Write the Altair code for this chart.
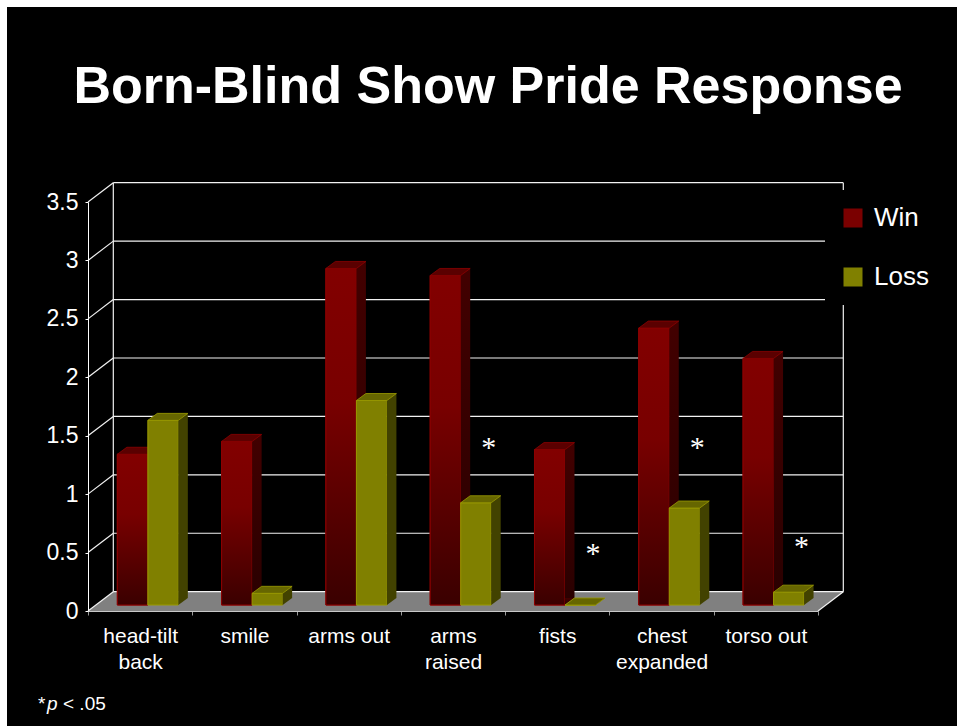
import altair as alt
import pandas as pd

# ---- data -------------------------------------------------------------
categories = ["head-tilt\nback", "smile", "arms out", "arms\nraised",
              "fists", "chest\nexpanded", "torso out"]
series = ["Win", "Loss"]
win = [1.29, 1.40, 2.88, 2.82, 1.33, 2.37, 2.11]
loss = [1.58, 0.10, 1.75, 0.875, 0.0, 0.83, 0.11]
y_ticks = [0, 0.5, 1, 1.5, 2, 2.5, 3, 3.5]
star_cats = ["arms\nraised", "fists", "chest\nexpanded", "torso out"]
star_heights = [1.38, 0.47, 1.38, 0.53]

# ---- geometry of the pseudo-3D frame (pixels) -------------------------
PLOT_W, PLOT_H = 730, 409
PAD_L, PAD_T = 88, 202
CANVAS_W, CANVAS_H = 957, 726
WALL_DX, WALL_DY = 25.3, 19.3     # depth of the floor / back wall
BAR_W = 30.5
BAR_DX, BAR_DY = 9.5, 7           # depth of each bar
PAIR_SHIFT = 7.7                  # bars stand a third of the way into the floor
BAR_LIFT = 6

FONT = "Liberation Sans"

bars = pd.DataFrame({
    "cat": categories * 2,
    "series": [series[0]] * len(win) + [series[1]] * len(loss),
    "value": win + loss,
})
ticks = pd.DataFrame({"value": y_ticks})
stars = pd.DataFrame({"cat": star_cats, "value": star_heights})
one = pd.DataFrame({"value": [0]})

x_axis = alt.Axis(
    labelExpr="split(datum.label, '\\n')", labelAngle=0, labelColor="white",
    labelFont=FONT, labelFontSize=21, labelLineHeight=26, labelPadding=10,
    labelOverlap=False, tickBand="extent", tickSize=4, tickColor="#9a9a9a",
    domainColor="#c8c8c8", domainWidth=1, grid=False, title=None, zindex=1,
)
y_axis = alt.Axis(
    values=y_ticks, format=".1~f", grid=False, domainColor="white",
    tickColor="white", tickSize=3, labelColor="white", labelFont=FONT,
    labelFontSize=23, labelPadding=7, title=None, zindex=1,
)
x_enc = alt.X("cat:N", sort=categories,
              scale=alt.Scale(type="band", paddingInner=0, paddingOuter=0),
              axis=x_axis)
y_scale = alt.Scale(domain=[0, 3.5], nice=False, zero=True)
y_enc = alt.Y("value:Q", scale=y_scale, axis=y_axis, stack=None)

color_enc = alt.Color(
    "series:N", scale=alt.Scale(domain=series, range=["#7a0000", "#808000"]),
    legend=alt.Legend(
        title=None, orient="none", legendX=737, legendY=-12,
        symbolType="square", symbolSize=361, symbolStrokeWidth=0,
        labelFont=FONT, labelFontSize=26, labelColor="white", labelOffset=8,
        rowPadding=33, padding=15, fillColor="black",
    ),
)

# ---- backdrop, floor and back wall ------------------------------------
backdrop = alt.Chart(one).mark_rect(color="black").encode(
    x=alt.value(7 - PAD_L), x2=alt.value(CANVAS_W - PAD_L),
    y=alt.value(7 - PAD_T), y2=alt.value(CANVAS_H - PAD_T),
)

floor_path = (f"M0,0 L{PLOT_W},0 L{PLOT_W + WALL_DX},{-WALL_DY} "
              f"L{WALL_DX},{-WALL_DY} Z")
floor = alt.Chart(one).mark_point(
    shape=floor_path, size=4, filled=True, fill="#808080", strokeWidth=0,
    opacity=1,
).encode(x=alt.value(0), y=y_enc)

wall_grid = alt.Chart(ticks).mark_rule(
    color="#f2f2f2", strokeWidth=1.2, yOffset=-WALL_DY, y2Offset=-WALL_DY,
).encode(x=alt.value(WALL_DX), x2=alt.value(PLOT_W + WALL_DX), y=y_enc,
         y2=alt.Y2("value:Q"))

side_grid = alt.Chart(ticks).mark_rule(
    color="#f2f2f2", strokeWidth=1.2, y2Offset=-WALL_DY,
).encode(x=alt.value(0), x2=alt.value(WALL_DX), y=y_enc,
         y2=alt.Y2("value:Q"))

wall_left = alt.Chart(one).mark_rule(
    color="#f2f2f2", strokeWidth=1.2, yOffset=-WALL_DY, y2Offset=-WALL_DY,
).encode(x=alt.value(WALL_DX), y=alt.datum(0), y2=alt.datum(3.5))

wall_right = alt.Chart(one).mark_rule(
    color="#f2f2f2", strokeWidth=1.2, yOffset=-WALL_DY, y2Offset=-WALL_DY,
).encode(x=alt.value(PLOT_W + WALL_DX), y=alt.datum(0), y2=alt.datum(3.5))

floor_right = alt.Chart(one).mark_rule(
    color="#f2f2f2", strokeWidth=1.2, y2Offset=-WALL_DY,
).encode(x=alt.value(PLOT_W), x2=alt.value(PLOT_W + WALL_DX),
         y=alt.datum(0), y2=alt.datum(0))


# ---- bars: front face, side face, foot of the side face, top face -----
def bar_layers(name, front, side, top, edge, left):
    src = alt.Chart(bars).transform_filter(alt.datum.series == name)
    right = left + BAR_W
    layers = []
    # flat front face carries the colour legend
    layers.append(src.mark_bar(
        width=BAR_W, xOffset=PAIR_SHIFT + left + BAR_W / 2,
        yOffset=-BAR_LIFT, y2Offset=-BAR_LIFT, stroke=edge, strokeWidth=1,
    ).encode(x=x_enc, y=y_enc, y2=alt.datum(0), color=color_enc))
    if front is not None:
        layers.append(src.mark_bar(
            width=BAR_W, xOffset=PAIR_SHIFT + left + BAR_W / 2,
            yOffset=-BAR_LIFT, y2Offset=-BAR_LIFT, fill=front,
            stroke=edge, strokeWidth=1,
        ).encode(x=x_enc, y=y_enc, y2=alt.datum(0)))
    layers.append(src.mark_bar(
        width=BAR_DX, xOffset=PAIR_SHIFT + right + BAR_DX / 2,
        yOffset=-BAR_LIFT - BAR_DY, y2Offset=-BAR_LIFT - BAR_DY,
        fill=side, strokeWidth=0,
    ).encode(x=x_enc, y=y_enc, y2=alt.datum(0)))
    foot = f"M{right},{-BAR_DY} L{right},0 L{right + BAR_DX},{-BAR_DY} Z"
    layers.append(src.mark_point(
        shape=foot, size=4, filled=True, fill=side, strokeWidth=0, opacity=1,
        xOffset=PAIR_SHIFT, yOffset=-BAR_LIFT,
    ).encode(x=x_enc, y=alt.datum(0)))
    lid = (f"M{left},0 L{right},0 L{right + BAR_DX},{-BAR_DY} "
           f"L{left + BAR_DX},{-BAR_DY} Z")
    layers.append(src.mark_point(
        shape=lid, size=4, filled=True, fill=top, stroke=edge,
        strokeWidth=0.8, opacity=1, xOffset=PAIR_SHIFT, yOffset=-BAR_LIFT,
    ).encode(x=x_enc, y=y_enc))
    return layers


win_front = alt.Gradient(
    gradient="linear", x1=0, x2=0, y1=0, y2=1,
    stops=[alt.GradientStop(color="#820000", offset=0),
           alt.GradientStop(color="#780000", offset=0.4),
           alt.GradientStop(color="#3a0000", offset=1)],
)
win_side = alt.Gradient(
    gradient="linear", x1=0, x2=0, y1=0, y2=1,
    stops=[alt.GradientStop(color="#420000", offset=0),
           alt.GradientStop(color="#2a0000", offset=1)],
)

win_layers = bar_layers("Win", win_front, win_side, "#5a0000", "#8c0000",
                        -BAR_W)
loss_layers = bar_layers("Loss", None, "#424200", "#666600", "#9a9a00", 0)

# ---- significance markers and footnote --------------------------------
star_marks = alt.Chart(stars).mark_text(
    text="*", font="Liberation Serif", fontSize=30, color="white",
    dx=PAIR_SHIFT + 28, dy=-2, baseline="middle",
).encode(x=x_enc, y=y_enc)

note_style = dict(font=FONT, fontSize=19, color="white", align="left",
                  baseline="alphabetic")
note_star = alt.Chart(one).mark_text(text="*", **note_style).encode(
    x=alt.value(38 - PAD_L), y=alt.value(710 - PAD_T))
note_p = alt.Chart(one).mark_text(text="p", fontStyle="italic",
                                  **note_style).encode(
    x=alt.value(47 - PAD_L), y=alt.value(710 - PAD_T))
note_rest = alt.Chart(one).mark_text(text="< .05", **note_style).encode(
    x=alt.value(63 - PAD_L), y=alt.value(710 - PAD_T))

chart = alt.layer(
    backdrop, floor, wall_grid, side_grid, wall_left, wall_right, floor_right,
    *win_layers, *loss_layers, star_marks, note_star, note_p, note_rest,
).properties(
    width=PLOT_W, height=PLOT_H,
    padding={"left": PAD_L, "top": PAD_T,
             "right": CANVAS_W - PAD_L - PLOT_W,
             "bottom": CANVAS_H - PAD_T - PLOT_H},
    autosize=alt.AutoSizeParams(type="none"),
    title=alt.Title("Born-Blind Show Pride Response", font=FONT, fontSize=52,
                    fontWeight="bold", color="white", anchor="middle",
                    frame="group", offset=-148, dx=35, baseline="alphabetic"),
).configure(background="white").configure_view(stroke=None, fill="black")

chart.save("out.html", embed_options={"renderer": "svg", "actions": False})
